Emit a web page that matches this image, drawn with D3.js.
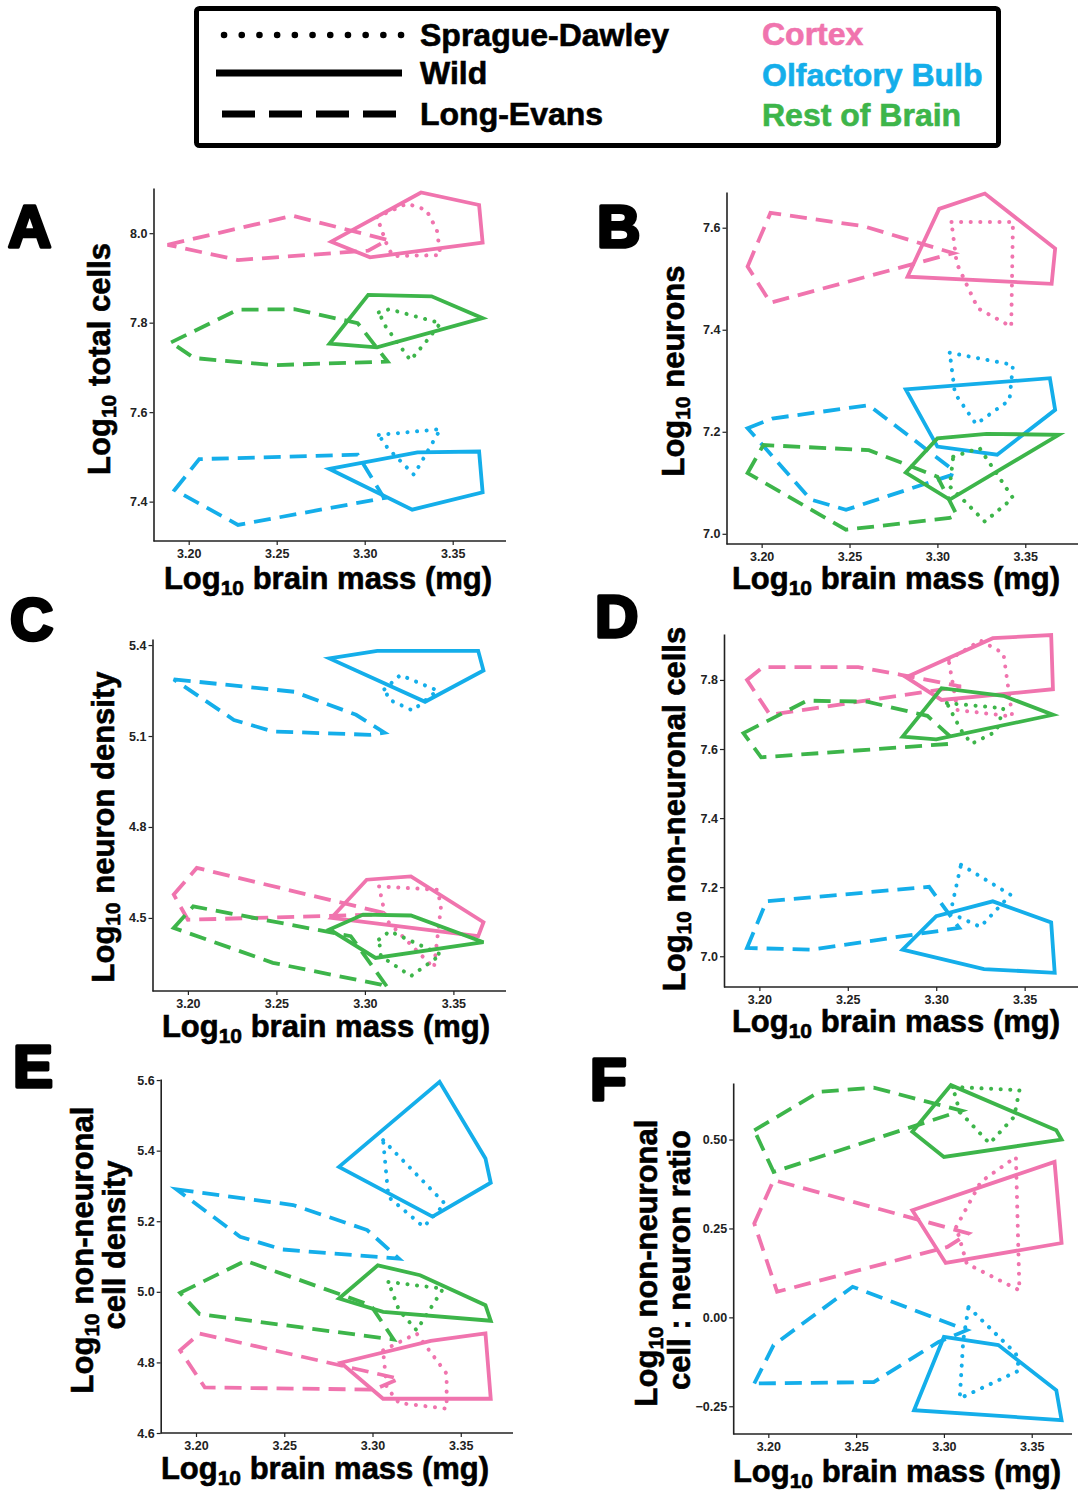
<!DOCTYPE html>
<html>
<head>
<meta charset="utf-8">
<script src="https://cdn.jsdelivr.net/npm/d3@7"></script>
<style>
  body { margin: 0; background: #fff; }
  svg { display: block; font-family: "Liberation Sans", Arial, sans-serif; }
</style>
</head>
<body>
<svg id="chart" width="1078" height="1491"></svg>
<script>
// categories
const regions = ["Cortex", "Olfactory Bulb", "Rest of Brain"];
const strains = ["Sprague-Dawley", "Wild", "Long-Evans"];

// tick values
const xTicks = [3.20, 3.25, 3.30, 3.35];
const yTicksA = [7.4, 7.6, 7.8, 8.0];
const yTicksB = [7.0, 7.2, 7.4, 7.6];
const yTicksC = [4.5, 4.8, 5.1, 5.4];
const yTicksD = [7.0, 7.2, 7.4, 7.6, 7.8];
const yTicksE = [4.6, 4.8, 5.0, 5.2, 5.4, 5.6];
const yTicksF = [-0.25, 0.00, 0.25, 0.50];

// hull vertices [log10 brain mass, value]
const hullsA = [
  { region: "Cortex", strain: "Long-Evans", pts: [[3.188,7.974],[3.259,8.039],[3.313,7.985],[3.302,7.961],[3.228,7.940]] },
  { region: "Cortex", strain: "Wild", pts: [[3.281,7.981],[3.332,8.091],[3.365,8.063],[3.367,7.979],[3.303,7.946]] },
  { region: "Cortex", strain: "Sprague-Dawley", pts: [[3.307,8.036],[3.324,8.066],[3.335,8.052],[3.341,8.007],[3.343,7.951],[3.316,7.949],[3.313,7.970]] },
  { region: "Rest of Brain", strain: "Long-Evans", pts: [[3.190,7.756],[3.228,7.829],[3.260,7.830],[3.296,7.799],[3.313,7.713],[3.248,7.705],[3.203,7.721]] },
  { region: "Rest of Brain", strain: "Wild", pts: [[3.280,7.753],[3.302,7.862],[3.338,7.859],[3.367,7.810],[3.307,7.745]] },
  { region: "Rest of Brain", strain: "Sprague-Dawley", pts: [[3.308,7.823],[3.314,7.830],[3.343,7.799],[3.336,7.763],[3.326,7.716],[3.312,7.791]] },
  { region: "Olfactory Bulb", strain: "Long-Evans", pts: [[3.192,7.426],[3.206,7.495],[3.296,7.505],[3.311,7.408],[3.228,7.348]] },
  { region: "Olfactory Bulb", strain: "Wild", pts: [[3.280,7.473],[3.330,7.510],[3.365,7.512],[3.367,7.421],[3.327,7.382]] },
  { region: "Olfactory Bulb", strain: "Sprague-Dawley", pts: [[3.308,7.549],[3.343,7.562],[3.328,7.460],[3.313,7.520]] }
];

const hullsB = [
  { region: "Cortex", strain: "Long-Evans", pts: [[3.192,7.524],[3.205,7.629],[3.258,7.603],[3.309,7.550],[3.205,7.453]] },
  { region: "Cortex", strain: "Wild", pts: [[3.283,7.504],[3.301,7.637],[3.327,7.667],[3.367,7.559],[3.365,7.490]] },
  { region: "Cortex", strain: "Sprague-Dawley", pts: [[3.308,7.611],[3.343,7.611],[3.342,7.406],[3.323,7.442],[3.311,7.530]] },
  { region: "Olfactory Bulb", strain: "Long-Evans", pts: [[3.192,7.207],[3.206,7.226],[3.261,7.252],[3.309,7.125],[3.308,7.115],[3.248,7.047],[3.228,7.067]] },
  { region: "Olfactory Bulb", strain: "Wild", pts: [[3.282,7.283],[3.364,7.305],[3.367,7.243],[3.334,7.155],[3.300,7.171]] },
  { region: "Olfactory Bulb", strain: "Sprague-Dawley", pts: [[3.307,7.355],[3.343,7.331],[3.341,7.262],[3.322,7.215],[3.310,7.275]] },
  { region: "Rest of Brain", strain: "Long-Evans", pts: [[3.192,7.119],[3.201,7.174],[3.261,7.164],[3.300,7.112],[3.311,7.037],[3.307,7.031],[3.248,7.008]] },
  { region: "Rest of Brain", strain: "Wild", pts: [[3.282,7.120],[3.300,7.187],[3.328,7.196],[3.369,7.194],[3.307,7.067]] },
  { region: "Rest of Brain", strain: "Sprague-Dawley", pts: [[3.309,7.151],[3.324,7.168],[3.343,7.070],[3.327,7.024],[3.307,7.093]] }
];

const hullsC = [
  { region: "Olfactory Bulb", strain: "Long-Evans", pts: [[3.192,5.287],[3.260,5.246],[3.295,5.170],[3.311,5.111],[3.303,5.104],[3.248,5.115],[3.226,5.153]] },
  { region: "Olfactory Bulb", strain: "Wild", pts: [[3.280,5.356],[3.307,5.381],[3.364,5.381],[3.367,5.316],[3.334,5.213]] },
  { region: "Olfactory Bulb", strain: "Sprague-Dawley", pts: [[3.311,5.254],[3.320,5.301],[3.341,5.250],[3.327,5.184],[3.314,5.219]] },
  { region: "Cortex", strain: "Long-Evans", pts: [[3.192,4.577],[3.205,4.665],[3.309,4.519],[3.307,4.511],[3.200,4.494]] },
  { region: "Cortex", strain: "Wild", pts: [[3.281,4.500],[3.301,4.626],[3.326,4.637],[3.367,4.486],[3.364,4.440]] },
  { region: "Cortex", strain: "Sprague-Dawley", pts: [[3.308,4.604],[3.341,4.593],[3.343,4.538],[3.339,4.335],[3.312,4.494]] },
  { region: "Rest of Brain", strain: "Long-Evans", pts: [[3.192,4.467],[3.203,4.538],[3.292,4.440],[3.313,4.269],[3.309,4.280],[3.248,4.352]] },
  { region: "Rest of Brain", strain: "Wild", pts: [[3.280,4.462],[3.299,4.511],[3.326,4.508],[3.367,4.420],[3.306,4.368]] },
  { region: "Rest of Brain", strain: "Sprague-Dawley", pts: [[3.308,4.429],[3.314,4.456],[3.343,4.379],[3.326,4.308],[3.309,4.374]] }
];

const hullsD = [
  { region: "Cortex", strain: "Long-Evans", pts: [[3.193,7.800],[3.202,7.837],[3.256,7.837],[3.280,7.815],[3.314,7.781],[3.206,7.699]] },
  { region: "Cortex", strain: "Wild", pts: [[3.283,7.808],[3.332,7.921],[3.365,7.930],[3.366,7.773],[3.303,7.742]] },
  { region: "Cortex", strain: "Sprague-Dawley", pts: [[3.307,7.858],[3.325,7.914],[3.338,7.877],[3.343,7.694],[3.312,7.713]] },
  { region: "Rest of Brain", strain: "Long-Evans", pts: [[3.191,7.646],[3.227,7.740],[3.261,7.737],[3.295,7.696],[3.308,7.636],[3.308,7.615],[3.201,7.576]] },
  { region: "Rest of Brain", strain: "Wild", pts: [[3.281,7.636],[3.303,7.776],[3.338,7.754],[3.366,7.699],[3.300,7.628]] },
  { region: "Rest of Brain", strain: "Sprague-Dawley", pts: [[3.306,7.733],[3.338,7.718],[3.334,7.651],[3.320,7.615],[3.314,7.655]] },
  { region: "Olfactory Bulb", strain: "Long-Evans", pts: [[3.193,7.024],[3.204,7.159],[3.296,7.201],[3.313,7.082],[3.229,7.019]] },
  { region: "Olfactory Bulb", strain: "Wild", pts: [[3.281,7.019],[3.300,7.116],[3.332,7.159],[3.365,7.098],[3.367,6.952],[3.327,6.963]] },
  { region: "Olfactory Bulb", strain: "Sprague-Dawley", pts: [[3.314,7.265],[3.342,7.178],[3.325,7.085],[3.308,7.125]] }
];

const hullsE = [
  { region: "Olfactory Bulb", strain: "Wild", pts: [[3.281,5.354],[3.338,5.595],[3.364,5.378],[3.367,5.309],[3.334,5.213]] },
  { region: "Olfactory Bulb", strain: "Sprague-Dawley", pts: [[3.306,5.430],[3.341,5.250],[3.329,5.184],[3.309,5.269]] },
  { region: "Olfactory Bulb", strain: "Long-Evans", pts: [[3.189,5.290],[3.255,5.246],[3.297,5.175],[3.315,5.094],[3.249,5.120],[3.225,5.156]] },
  { region: "Rest of Brain", strain: "Long-Evans", pts: [[3.191,4.997],[3.228,5.088],[3.299,4.962],[3.312,4.865],[3.202,4.937]] },
  { region: "Rest of Brain", strain: "Wild", pts: [[3.281,4.981],[3.303,5.075],[3.327,5.047],[3.364,4.962],[3.367,4.918],[3.306,4.943]] },
  { region: "Rest of Brain", strain: "Sprague-Dawley", pts: [[3.309,5.028],[3.340,5.009],[3.325,4.891],[3.315,4.948]] },
  { region: "Cortex", strain: "Long-Evans", pts: [[3.191,4.834],[3.202,4.882],[3.315,4.754],[3.301,4.723],[3.205,4.729]] },
  { region: "Cortex", strain: "Wild", pts: [[3.282,4.799],[3.333,4.861],[3.364,4.882],[3.367,4.697],[3.306,4.697]] },
  { region: "Cortex", strain: "Sprague-Dawley", pts: [[3.306,4.834],[3.325,4.882],[3.342,4.768],[3.342,4.669],[3.315,4.685],[3.308,4.730]] }
];

const hullsF = [
  { region: "Rest of Brain", strain: "Long-Evans", pts: [[3.192,0.526],[3.229,0.634],[3.260,0.646],[3.310,0.581],[3.203,0.409]] },
  { region: "Rest of Brain", strain: "Wild", pts: [[3.282,0.522],[3.304,0.653],[3.364,0.526],[3.367,0.500],[3.300,0.451]] },
  { region: "Rest of Brain", strain: "Sprague-Dawley", pts: [[3.305,0.648],[3.343,0.639],[3.340,0.564],[3.326,0.489],[3.309,0.578]] },
  { region: "Cortex", strain: "Long-Evans", pts: [[3.192,0.264],[3.203,0.386],[3.314,0.236],[3.302,0.198],[3.205,0.072]] },
  { region: "Cortex", strain: "Wild", pts: [[3.282,0.301],[3.363,0.437],[3.367,0.209],[3.301,0.153]] },
  { region: "Cortex", strain: "Sprague-Dawley", pts: [[3.307,0.254],[3.321,0.381],[3.341,0.451],[3.343,0.076],[3.313,0.151]] },
  { region: "Olfactory Bulb", strain: "Long-Evans", pts: [[3.192,-0.186],[3.203,-0.078],[3.248,0.086],[3.313,-0.036],[3.297,-0.069],[3.260,-0.182]] },
  { region: "Olfactory Bulb", strain: "Wild", pts: [[3.283,-0.261],[3.300,-0.055],[3.331,-0.078],[3.364,-0.205],[3.367,-0.289]] },
  { region: "Olfactory Bulb", strain: "Sprague-Dawley", pts: [[3.314,0.029],[3.341,-0.102],[3.343,-0.149],[3.309,-0.228],[3.311,-0.064]] }
];

const color = d3.scaleOrdinal().domain(regions).range(["#F074AE", "#14AEEA", "#3DB54A"]);
const dashFor = { "Sprague-Dawley": "0.1,9.5", "Wild": null, "Long-Evans": "17,9" };

// panel layout (pixels) and axis ranges
const panels = [
  { id: "A", hulls: hullsA, yTicks: yTicksA, yFmt: ".1f", yDomain: [7.312, 8.101], x: [153.5, 505.5], y: [541, 188], xEnd: 506,
    letter: [8, 247], yLabel: ["total cells"], yLab: [[110, 359]], xLab: [328, 589] },
  { id: "B", hulls: hullsB, yTicks: yTicksB, yFmt: ".1f", yDomain: [6.980, 7.670], x: [726.5, 1078], y: [544, 192], xEnd: 1078,
    letter: [597, 247], yLabel: ["neurons"], yLab: [[684, 371]], xLab: [896, 589] },
  { id: "C", hulls: hullsC, yTicks: yTicksC, yFmt: ".1f", yDomain: [4.259, 5.420], x: [152.5, 506.5], y: [991, 639], xEnd: 506,
    letter: [10, 640], yLabel: ["neuron density"], yLab: [[114, 827]], xLab: [326, 1037] },
  { id: "D", hulls: hullsD, yTicks: yTicksD, yFmt: ".1f", yDomain: [6.911, 7.933], x: [724, 1077.7], y: [987, 634], xEnd: 1078,
    letter: [595, 637], yLabel: ["non-neuronal cells"], yLab: [[685, 809]], xLab: [896, 1032] },
  { id: "E", hulls: hullsE, yTicks: yTicksE, yFmt: ".1f", yDomain: [4.6, 5.603], x: [160.7, 513.7], y: [1433, 1079], xEnd: 513,
    letter: [13, 1087], yLabel: ["non-neuronal", "cell density"], yLab: [[93, 1250], [125, 1245]], xLab: [325, 1479] },
  { id: "F", hulls: hullsF, yTicks: yTicksF, yFmt: ".2f", yDomain: [-0.328, 0.659], x: [733.2, 1084.4], y: [1434, 1083], xEnd: 1072,
    letter: [590, 1100], yLabel: ["non-neuronal", "cell : neuron ratio"], yLab: [[657, 1263], [690, 1260]], xLab: [897, 1482] }
];

const svg = d3.select("#chart");

// legend
const legend = svg.append("g");
legend.append("rect")
  .attr("x", 196.5).attr("y", 8.5).attr("width", 802).attr("height", 137).attr("rx", 3)
  .attr("fill", "#fff").attr("stroke", "#000").attr("stroke-width", 5);

const legendLines = [
  { strain: "Sprague-Dawley", y: 35, x1: 224, x2: 402, dash: "0.1,17.6", w: 6.5 },
  { strain: "Wild", y: 73, x1: 216, x2: 402, dash: null, w: 7 },
  { strain: "Long-Evans", y: 114, x1: 222, x2: 397, dash: "33,14", w: 7 }
];
legendLines.forEach(function(d) {
  legend.append("line")
    .attr("x1", d.x1).attr("x2", d.x2).attr("y1", d.y).attr("y2", d.y)
    .attr("stroke", "#000").attr("stroke-width", d.w)
    .attr("stroke-dasharray", d.dash)
    .attr("stroke-linecap", d.dash && d.dash.startsWith("0.1") ? "round" : "butt");
  legend.append("text")
    .attr("x", 420).attr("y", d.y + 11)
    .attr("font-size", 32).attr("font-weight", "bold").attr("fill", "#000")
    .attr("stroke", "#000").attr("stroke-width", 0.6)
    .text(d.strain);
});
regions.forEach(function(r, i) {
  legend.append("text")
    .attr("x", 762).attr("y", [45, 86, 126][i])
    .attr("font-size", 32).attr("font-weight", "bold").attr("fill", color(r))
    .attr("stroke", color(r)).attr("stroke-width", 0.6)
    .text(r);
});

const line = d3.line().curve(d3.curveLinearClosed);

function logLabel(sel, rest) {
  sel.append("tspan").text("Log");
  sel.append("tspan").attr("font-size", 21).attr("dy", 6).text("10");
  sel.append("tspan").attr("dy", -6).text(" " + rest);
}

panels.forEach(function(p) {
  const x = d3.scaleLinear().domain([3.18, 3.38]).range(p.x);
  const y = d3.scaleLinear().domain(p.yDomain).range(p.y);
  const g = svg.append("g");

  // axes
  const xAxis = g.append("g")
    .attr("transform", "translate(0," + p.y[0] + ")")
    .call(d3.axisBottom(x).tickValues(xTicks).tickFormat(d3.format(".2f")).tickSize(4).tickSizeOuter(0).tickPadding(4));
  xAxis.select(".domain").attr("d", "M" + p.x[0] + ",0H" + p.xEnd);

  g.append("g")
    .attr("transform", "translate(" + p.x[0] + ",0)")
    .call(d3.axisLeft(y).tickValues(p.yTicks).tickFormat(d3.format(p.yFmt)).tickSize(4).tickSizeOuter(0).tickPadding(2));

  g.selectAll(".domain").attr("stroke", "#222").attr("stroke-width", 1.6);
  g.selectAll(".tick line").attr("stroke", "#222").attr("stroke-width", 1.2);
  g.selectAll(".tick text")
    .attr("font-family", "'Liberation Sans', Arial, sans-serif")
    .attr("font-size", 12.5).attr("font-weight", "bold").attr("fill", "#222");

  // hulls
  g.selectAll("path.hull")
    .data(p.hulls)
    .enter().append("path")
    .attr("class", "hull")
    .attr("d", function(d) { return line(d.pts.map(function(v) { return [x(v[0]), y(v[1])]; })); })
    .attr("fill", "none")
    .attr("stroke", function(d) { return color(d.region); })
    .attr("stroke-width", function(d) { return d.strain === "Sprague-Dawley" ? 4 : 3.8; })
    .attr("stroke-dasharray", function(d) { return dashFor[d.strain]; })
    .attr("stroke-linecap", function(d) { return d.strain === "Sprague-Dawley" ? "round" : "butt"; })
    .attr("stroke-linejoin", "miter");

  // panel letter
  g.append("text")
    .attr("x", p.letter[0]).attr("y", p.letter[1])
    .attr("font-size", 60).attr("font-weight", "bold")
    .attr("stroke", "#000").attr("stroke-width", 3.5).attr("stroke-linejoin", "round")
    .text(p.id);

  // x label
  const xl = g.append("text")
    .attr("x", p.xLab[0]).attr("y", p.xLab[1])
    .attr("text-anchor", "middle")
    .attr("font-size", 31).attr("font-weight", "bold")
    .attr("stroke", "#000").attr("stroke-width", 0.6);
  logLabel(xl, "brain mass (mg)");

  // y label (one or two lines)
  p.yLabel.forEach(function(txt, i) {
    const pos = p.yLab[i];
    const yl = g.append("text")
      .attr("transform", "translate(" + pos[0] + "," + pos[1] + ") rotate(-90)")
      .attr("text-anchor", "middle")
      .attr("font-size", 31).attr("font-weight", "bold")
      .attr("stroke", "#000").attr("stroke-width", 0.6);
    if (i === 0) logLabel(yl, txt);
    else yl.text(txt);
  });
});
</script>
</body>
</html>
